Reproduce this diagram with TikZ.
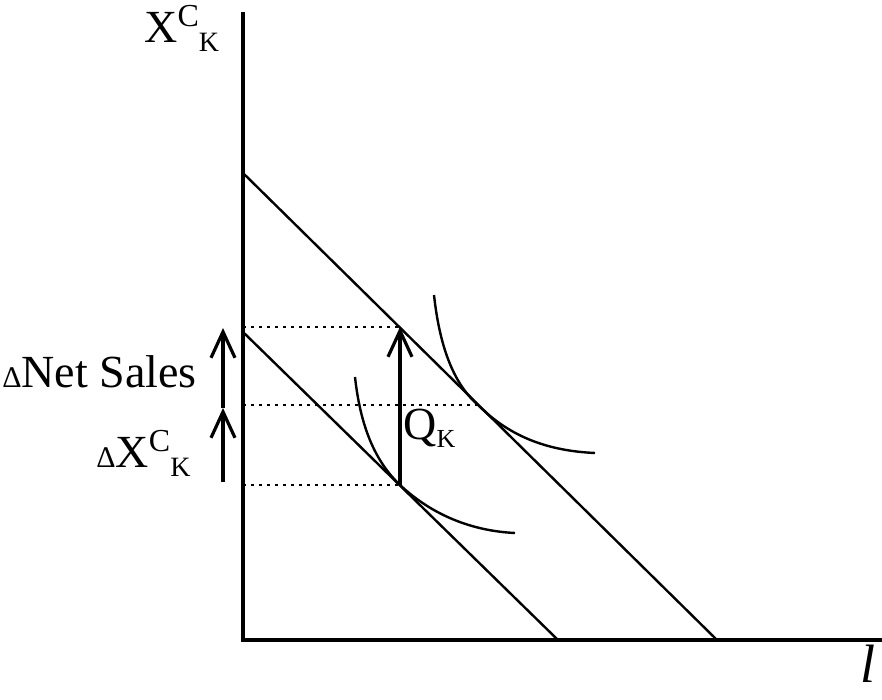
\documentclass[tikz,border=0pt]{standalone}
\usepackage{fontspec}
\setmainfont{Liberation Serif}
\usetikzlibrary{arrows.meta}
\newcommand{\XCK}{X\raisebox{8pt}{\fontsize{16}{16}\selectfont C}\raisebox{-4.5pt}{\fontsize{14}{14}\selectfont K}}
\newcommand{\smalldelta}{{\fontsize{15}{15}\selectfont Δ}}
\begin{document}
\begin{tikzpicture}[x=0.5pt, y=-0.5pt, >={Straight Barb[length=13pt,width=12pt]},
  lbl/.style={inner sep=0pt, anchor=base west, font=\fontsize{23}{26}\selectfont},
  axis/.style={line width=2.2pt},
  budget/.style={line width=1.2pt},
  indiff/.style={line width=1.2pt},
  guide/.style={line width=1pt, dash pattern=on 1.5pt off 2.5pt},
  shiftarrow/.style={->, line width=1.6pt}]
\useasboundingbox (0,0) rectangle (882,700);
% axes
\coordinate (O) at (243,640);
\coordinate (ytop) at (243,12);
\coordinate (xend) at (882,640);
\draw[axis] (ytop) -- (O) -- (xend);
\node[lbl] (ylab) at (144,43) {\XCK};
\node[lbl, font=\fontsize{27}{30}\selectfont\itshape] (xlab) at (860,682) {l};
% budget lines
\coordinate (A1) at (243,173);
\coordinate (A2) at (717,640);
\coordinate (B1) at (243,332);
\coordinate (B2) at (558,640);
\draw[budget] (A1) -- (A2);
\draw[budget] (B1) -- (B2);
% indifference curves
\coordinate (T) at (478,405);
\coordinate (P) at (400,327);
\coordinate (R) at (400,485);
\draw[indiff] (434,295) .. controls (440,350) and (455,385) .. (T)
  .. controls (511,438) and (550,451) .. (595,453);
\draw[indiff] (355,377) .. controls (361,432) and (378,464) .. (R)
  .. controls (432,515) and (472,531) .. (515,533);
% dotted guides
\coordinate (yP) at (243,327);
\coordinate (yT) at (243,405);
\coordinate (yR) at (243,485);
\draw[guide] (yP) -- (P);
\draw[guide] (yT) -- (T);
\draw[guide] (yR) -- (R);
% shift Q_K
\draw[shiftarrow] (R) -- (P);
\node[lbl] (qlab) at (403,439) {Q\raisebox{-4pt}{\fontsize{13}{13}\selectfont K}};
% left arrows
\coordinate (L1) at (223,482);
\coordinate (L2) at (223,408);
\coordinate (L3) at (223,328);
\draw[shiftarrow] (L1) -- (L2);
\draw[shiftarrow] (L2) -- (L3);
\node[lbl] (netlab) at (2,387) {\smalldelta Net Sales};
\node[lbl] (dxlab) at (96,467) {\smalldelta\XCK};
\end{tikzpicture}
\end{document}
